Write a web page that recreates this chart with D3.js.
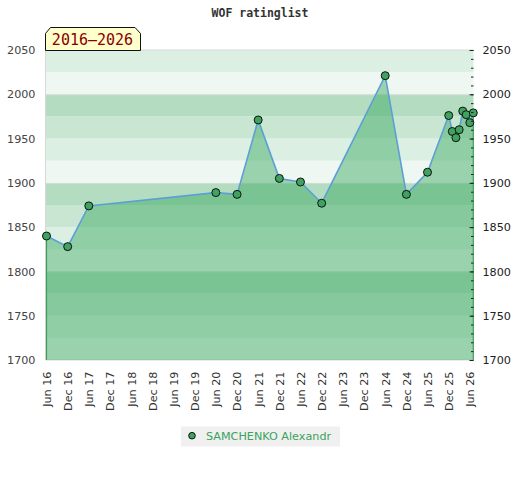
<!DOCTYPE html>
<html>
<head>
<meta charset="utf-8">
<script src="https://cdn.jsdelivr.net/npm/d3@7"></script>
<style>
  body { margin: 0; background: #fff; }
  text { font-family: "DejaVu Sans", sans-serif; }
</style>
</head>
<body>
<svg id="vis" width="520" height="480"></svg>
<script>
// rating history
const dates = ["2016-06", "2016-12", "2017-06", "2020-06", "2020-12", "2021-06", "2021-12",
    "2022-06", "2022-12", "2024-06", "2024-12", "2025-06", "2025-12", "2026-01",
    "2026-02", "2026-03", "2026-04", "2026-05", "2026-06", "2026-07"];
const ratings = [1840, 1828, 1874, 1889, 1887, 1971, 1905, 1901, 1877, 2021, 1887, 1912,
    1976, 1958, 1951, 1960, 1981, 1977, 1968, 1979];
const playerName = "SAMCHENKO Alexandr";
const chartTitle = "WOF ratinglist";
const periodLabel = "2016\u20132026";
const yMajor = [1700, 1750, 1800, 1850, 1900, 1950, 2000, 2050];
const bandColors = ["#b3dcc1", "#c8e6d2", "#dcefe3", "#eff7f2"]; // top to bottom, per 100

const parse = d3.timeParse("%Y-%m");
const data = dates.map((d, i) => ({date: parse(d), rating: ratings[i]}));

const svg = d3.select("#vis");
const pLeft = 45.5, pRight = 473.5, pTop = 50, pBottom = 360;

const x = d3.scaleTime()
    .domain([parse("2016-06"), parse("2026-07")])
    .range([46.5, 473.3]);
const y = d3.scaleLinear()
    .domain([1700, 2050])
    .range([pBottom, pTop]);

// background bands, 25 points each
const bands = d3.range(1700, 2050, 25);
svg.append("g").selectAll("rect")
    .data(bands)
    .enter()
    .append("rect")
    .attr("x", pLeft)
    .attr("width", pRight - pLeft)
    .attr("y", d => y(d + 25))
    .attr("height", d => y(d) - y(d + 25))
    .attr("fill", d => bandColors[3 - ((d - 1700) / 25) % 4]);

// grid every 100
svg.append("g").selectAll("line")
    .data([1800, 1900, 2000])
    .enter()
    .append("line")
    .attr("x1", pLeft).attr("x2", pRight)
    .attr("y1", d => y(d) + 0.5).attr("y2", d => y(d) + 0.5)
    .attr("stroke", "#d6ddd8");

// frame
svg.append("path")
    .attr("d", `M${pRight},${pTop}H${pLeft}V${pBottom}H${pRight}`)
    .attr("fill", "none")
    .attr("stroke", "#d8d8d8");

// area under the rating line
const area = d3.area()
    .x(d => x(d.date))
    .y0(y(1700))
    .y1(d => y(d.rating));
svg.append("path")
    .datum(data)
    .attr("d", area)
    .attr("fill", "rgb(60,170,98)")
    .attr("fill-opacity", 0.48);

// green edges at both ends of the area
const ends = [data[0], data[data.length - 1]];
svg.append("g").selectAll("line")
    .data(ends)
    .enter()
    .append("line")
    .attr("x1", d => x(d.date)).attr("x2", d => x(d.date))
    .attr("y1", d => y(d.rating)).attr("y2", y(1700))
    .attr("stroke", "#3f9e5e")
    .attr("stroke-width", 1.2);

// rating line
const line = d3.line()
    .x(d => x(d.date))
    .y(d => y(d.rating));
svg.append("path")
    .datum(data)
    .attr("d", line)
    .attr("fill", "none")
    .attr("stroke", "#5b9fd6")
    .attr("stroke-width", 1.6);

// points
svg.append("g").selectAll("circle")
    .data(data)
    .enter()
    .append("circle")
    .attr("cx", d => x(d.date))
    .attr("cy", d => y(d.rating))
    .attr("r", 4)
    .attr("fill", "#3da35f")
    .attr("stroke", "#111")
    .attr("stroke-width", 1);

// left axis
const gl = svg.append("g")
    .attr("transform", `translate(${pLeft},0)`)
    .call(d3.axisLeft(y).tickValues(yMajor).tickSize(0).tickPadding(10).tickFormat(d3.format("d")));
gl.select(".domain").remove();
gl.selectAll("text").attr("fill", "#444").style("font-size", "11.2px").style("font-family", "DejaVu Sans");

// right axis, minor + major ticks
const grMinor = svg.append("g")
    .attr("transform", `translate(${pRight},0)`)
    .call(d3.axisRight(y).tickValues(d3.range(1700, 2051, 10)).tickSize(-2.5).tickFormat(""));
grMinor.select(".domain").remove();
grMinor.selectAll("line").attr("stroke", "#222");
const gr = svg.append("g")
    .attr("transform", `translate(${pRight},0)`)
    .call(d3.axisRight(y).tickValues(yMajor).tickSize(-4).tickPadding(9).tickFormat(d3.format("d")));
gr.select(".domain").remove();
gr.selectAll("line").attr("stroke", "#222");
gr.selectAll("text").attr("fill", "#222").style("font-size", "11.2px").style("font-family", "DejaVu Sans");

// bottom axis, half-year labels
const xTicks = d3.timeMonth.range(parse("2016-06"), parse("2026-07"), 6);
const gx = svg.append("g")
    .attr("transform", `translate(0,${pBottom})`)
    .call(d3.axisBottom(x).tickValues(xTicks).tickSize(0).tickFormat(d3.timeFormat("%b %y")));
gx.select(".domain").remove();
gx.selectAll("text")
    .attr("transform", "rotate(-90)")
    .attr("text-anchor", "end")
    .attr("x", -11.5)
    .attr("y", 0)
    .attr("dy", "0.35em")
    .attr("fill", "#333")
    .style("font-size", "11.2px")
    .style("font-family", "DejaVu Sans");

// title
svg.append("text")
    .attr("x", 260)
    .attr("y", 17)
    .attr("text-anchor", "middle")
    .style("font-family", "DejaVu Sans Mono")
    .style("font-weight", "bold")
    .style("font-size", "11.5px")
    .attr("fill", "#333")
    .text(chartTitle);

// period tag
svg.append("path")
    .attr("d", "M45.5,50.5V33.5L50.5,27.5H135L140.5,33.5V50.5Z")
    .attr("fill", "#ffffcc")
    .attr("stroke", "#111")
    .attr("stroke-width", 1);
svg.append("text")
    .attr("x", 92.5)
    .attr("y", 45)
    .attr("text-anchor", "middle")
    .style("font-family", "DejaVu Sans Mono")
    .style("font-size", "15px")
    .attr("fill", "#8b0000")
    .text(periodLabel);

// legend
const lg = svg.append("g");
lg.append("rect")
    .attr("x", 181).attr("y", 426.5)
    .attr("width", 159).attr("height", 20)
    .attr("fill", "#f0f0f0");
lg.append("circle")
    .attr("cx", 192).attr("cy", 435.7).attr("r", 3.3)
    .attr("fill", "#3da35f").attr("stroke", "#111");
lg.append("text")
    .attr("x", 206).attr("y", 440)
    .style("font-size", "11.2px")
    .attr("fill", "#3aa35e")
    .text(playerName);
</script>
</body>
</html>
